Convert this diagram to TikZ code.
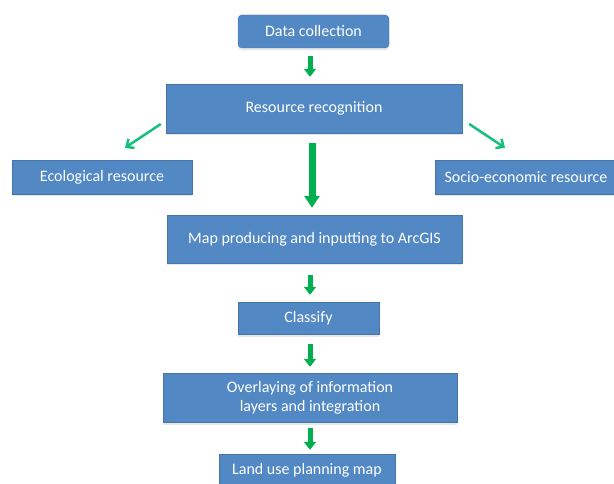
\documentclass[tikz,border=0pt]{standalone}
\usepackage{fontspec}
\setmainfont{Carlito}
\usetikzlibrary{arrows.meta,shadows}
\definecolor{boxblue}{RGB}{82,136,196}
\definecolor{arrgreen}{RGB}{0,176,80}
\definecolor{diaggreen}{RGB}{20,192,122}
\tikzset{
  box/.style={fill=boxblue, draw=boxblue!85!black, line width=0.4pt, text=white,
    font=\fontsize{16}{19}\selectfont, inner sep=0pt, align=center,
    drop shadow={opacity=0.18, shadow xshift=0pt, shadow yshift=-2.5pt}},
  smallarr/.style={draw=arrgreen, line width=5pt, -{Triangle[width=12pt,length=8pt]}},
  bigarr/.style={draw=arrgreen, line width=7pt, -{Triangle[width=15pt,length=12pt]}},
  diagarr/.style={draw=diaggreen, line width=2.5pt, -{Straight Barb[length=6pt,width=11pt]}}
}
\begin{document}
\begin{tikzpicture}[x=1pt,y=-1pt]
\useasboundingbox (0,0) rectangle (614,484);
\clip (0,0) rectangle (614,484);
\node[box, rounded corners=4pt, minimum width=151pt, minimum height=33pt] (dc) at (313.5,31.5) {Data collection};
\node[box, minimum width=296pt, minimum height=49pt] (rr) at (314,108.5) {Resource recognition};
\node[box, minimum width=180pt, minimum height=34pt] (eco) at (102,177) {Ecological resource};
\node[box, minimum width=182pt, minimum height=34pt] (soc) at (526,177) {Socio-economic resource};
\node[box, minimum width=295pt, minimum height=48pt] (map) at (314.5,239) {Map producing and inputting to ArcGIS};
\node[box, minimum width=141pt, minimum height=32pt] (cls) at (308.5,318) {Classify};
\node[box, minimum width=294pt, minimum height=49pt] (ovl) at (310,397.5) {Overlaying of information\\layers and integration};
\node[box, minimum width=176pt, minimum height=33pt] (lup) at (307,470.5) {Land use planning map};

\draw[smallarr] ([xshift=-3.5pt,yshift=-8pt]dc.south) -- ([xshift=-4pt,yshift=7pt]rr.north);
\draw[bigarr] ([xshift=-2pt,yshift=-10pt]rr.south) -- ([xshift=-2.5pt,yshift=7pt]map.north);
\draw[smallarr] ([xshift=-4.5pt,yshift=-12pt]map.south) -- ([xshift=1.5pt,yshift=7pt]cls.north);
\draw[smallarr] ([xshift=1.5pt,yshift=-10pt]cls.south) -- ([yshift=6pt]ovl.north);
\draw[smallarr] ([yshift=-6pt]ovl.south) -- ([xshift=3pt,yshift=4pt]lup.north);
\draw[diagarr] ([xshift=-5pt,yshift=-15.5pt]rr.west) -- ([xshift=23pt,yshift=12pt]eco.north);
\draw[diagarr] ([xshift=7pt,yshift=-15.5pt]rr.east) -- ([xshift=-21pt,yshift=12pt]soc.north);
\end{tikzpicture}
\end{document}
